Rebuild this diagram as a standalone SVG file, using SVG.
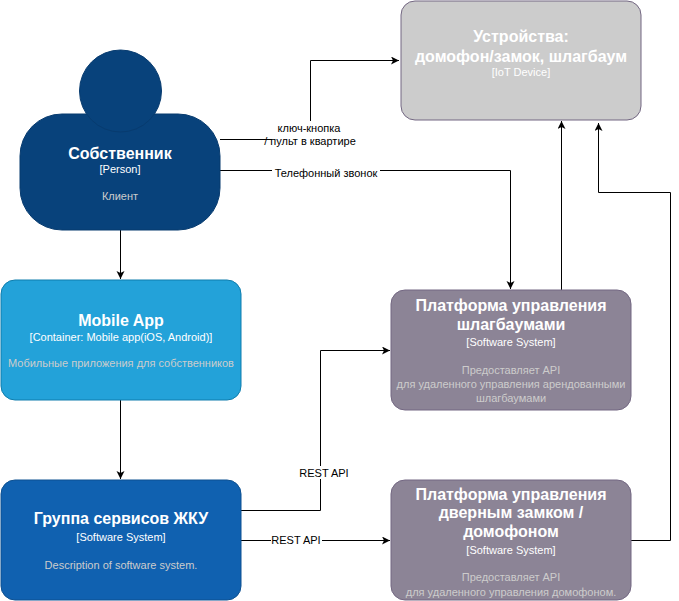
<svg xmlns="http://www.w3.org/2000/svg" width="679" height="601" viewBox="0 0 679 601">
<style>
text{font-family:"Liberation Sans",Arial,sans-serif;text-anchor:middle}
.t{font-size:16px;font-weight:bold;fill:#fff}
.s{font-size:11px;fill:#fff}
.d{font-size:11px;fill:#ccc}
.l{font-size:11px;fill:#000}
.c{fill:none;stroke:#000;stroke-width:1}
.lb{fill:#fff}
</style>
<defs>
<marker id="a" markerWidth="10" markerHeight="10" refX="8" refY="4" orient="auto" markerUnits="userSpaceOnUse">
<path d="M0,0 L8,4 L0,8 L2,4 z" fill="#000"/>
</marker>
</defs>
<rect width="679" height="601" fill="#fff"/>
<g id="connectors">
<path class="c" d="M220,139.5 H310.5 V60.5 H399" marker-end="url(#a)"/>
<path class="c" d="M220,170.5 H510.5 V289" marker-end="url(#a)"/>
<path class="c" d="M120.5,230 V279" marker-end="url(#a)"/>
<path class="c" d="M120.5,400 V479" marker-end="url(#a)"/>
<path class="c" d="M241,510.5 H320.5 V350.5 H390" marker-end="url(#a)"/>
<path class="c" d="M241,540.5 H390" marker-end="url(#a)"/>
<path class="c" d="M561.5,290 V121" marker-end="url(#a)"/>
<path class="c" d="M631,540.5 H670.5 V192.5 H598.5 V123" marker-end="url(#a)"/>
<rect class="lb" x="272" y="121" width="76" height="27"/>
<text class="l" x="309" y="132">ключ-кнопка</text>
<text class="l" x="310" y="145">/ пульт в квартире</text>
<rect class="lb" x="272" y="165" width="108" height="13"/>
<text class="l" x="326" y="177">Телефонный звонок</text>
<rect class="lb" x="299" y="466" width="51" height="13"/>
<text class="l" x="324" y="477">REST API</text>
<rect class="lb" x="271" y="534" width="51" height="13"/>
<text class="l" x="296" y="544">REST API</text>
</g>
<g id="person">
<rect x="20" y="114" width="200" height="116" rx="42" ry="42" fill="#08427B" stroke="#073B6F"/>
<circle cx="120.5" cy="91" r="41" fill="#08427B" stroke="#073B6F"/>
<text class="t" x="120" y="159">Собственник</text>
<text class="s" x="120" y="173">[Person]</text>
<text class="d" x="120" y="200">Клиент</text>
</g>
<g id="devices">
<rect x="401" y="1" width="240" height="119" rx="14" ry="14" fill="#CCCCCC" stroke="#736782"/>
<text class="t" x="521" y="41.5">Устройства:</text>
<text class="t" x="521" y="61.5">домофон/замок, шлагбаум</text>
<text class="s" x="521" y="75.5">[IoT Device]</text>
</g>
<g id="mobile">
<rect x="1" y="280" width="240" height="120" rx="14" ry="14" fill="#23A2D9" stroke="#0E7DAD"/>
<text class="t" x="121" y="325.5">Mobile App</text>
<text class="s" x="121" y="341">[Container: Mobile app(iOS, Android)]</text>
<text class="d" x="121" y="367">Мобильные приложения для собственников</text>
</g>
<g id="barrier">
<rect x="391" y="290" width="240" height="120" rx="14" ry="14" fill="#8C8496" stroke="#736782"/>
<text class="t" x="511" y="310.5">Платформа управления</text>
<text class="t" x="511" y="329.5">шлагбаумами</text>
<text class="s" x="511" y="346">[Software System]</text>
<text class="d" x="511" y="374">Предоставляет API</text>
<text class="d" x="511" y="388">для удаленного управления арендованными</text>
<text class="d" x="511" y="402">шлагбаумами</text>
</g>
<g id="services">
<rect x="1" y="480" width="240" height="120" rx="14" ry="14" fill="#1061B0" stroke="#0D5091"/>
<text class="t" x="121" y="523.5">Группа сервисов ЖКУ</text>
<text class="s" x="121" y="541">[Software System]</text>
<text class="d" x="121" y="569">Description of software system.</text>
</g>
<g id="door">
<rect x="391" y="480" width="240" height="120" rx="14" ry="14" fill="#8C8496" stroke="#736782"/>
<text class="t" x="511" y="499.5">Платформа управления</text>
<text class="t" x="511" y="518">дверным замком /</text>
<text class="t" x="511" y="536.5">домофоном</text>
<text class="s" x="511" y="554">[Software System]</text>
<text class="d" x="511" y="581">Предоставляет API</text>
<text class="d" x="511" y="596">для удаленного управления домофоном.</text>
</g>
</svg>
